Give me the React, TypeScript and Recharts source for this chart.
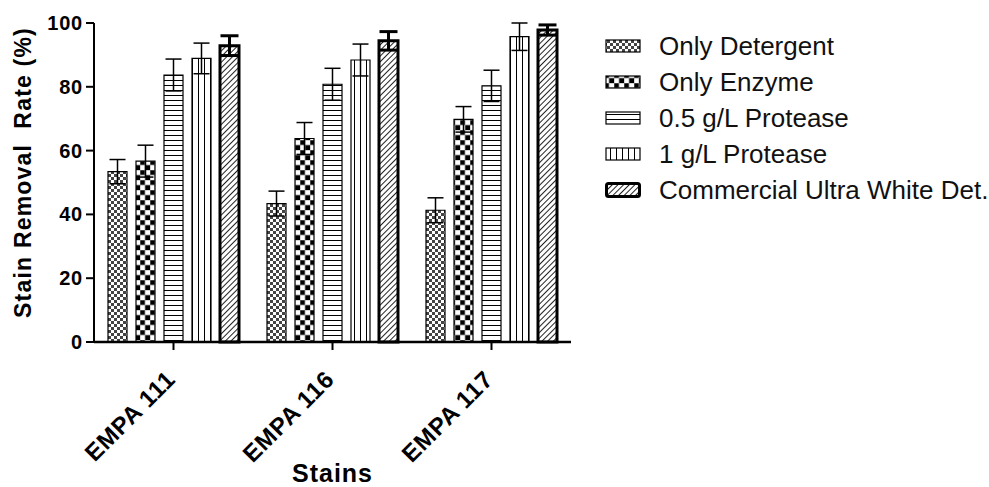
import React from 'react';
import { BarChart, Bar, XAxis, YAxis, ErrorBar, Label } from 'recharts';

const categories = ['EMPA 111', 'EMPA 116', 'EMPA 117'];
const onlyDetergent = [53.4, 43.4, 41.3];
const onlyDetergentErr = [3.8, 3.9, 3.9];
const onlyEnzyme = [56.7, 63.8, 69.8];
const onlyEnzymeErr = [5.0, 5.0, 4.0];
const protease05 = [83.7, 80.8, 80.3];
const protease05Err = [5.0, 5.0, 4.9];
const protease1 = [88.9, 88.4, 95.7];
const protease1Err = [4.8, 5.0, 4.3];
const commercial = [92.9, 94.4, 97.8];
const commercialErr = [3.1, 2.9, 1.6];
const yTicks = [0, 20, 40, 60, 80, 100];

const seriesNames = [
  'Only Detergent',
  'Only Enzyme',
  '0.5 g/L Protease',
  '1 g/L Protease',
  'Commercial Ultra White Det.',
];

const data = categories.map((c, i) => ({
  name: c,
  det: onlyDetergent[i],
  detErr: onlyDetergentErr[i],
  enz: onlyEnzyme[i],
  enzErr: onlyEnzymeErr[i],
  p05: protease05[i],
  p05Err: protease05Err[i],
  p1: protease1[i],
  p1Err: protease1Err[i],
  com: commercial[i],
  comErr: commercialErr[i],
}));

const FONT = '"Liberation Sans", Arial, Helvetica, sans-serif';

const Patterns = ({ prefix }: { prefix: string }) => (
  <defs>
    <pattern id={`${prefix}det`} width={6} height={6} patternUnits="userSpaceOnUse">
      <rect width={6} height={6} fill="#fff" />
      <rect x={0} y={0} width={3} height={3} fill="#444" />
      <rect x={3} y={3} width={3} height={3} fill="#444" />
    </pattern>
    <pattern id={`${prefix}enz`} width={10} height={10} patternUnits="userSpaceOnUse">
      <rect width={10} height={10} fill="#fff" />
      <rect x={0} y={0} width={5} height={5} fill="#000" />
      <rect x={5} y={5} width={5} height={5} fill="#000" />
      <path d="M0 0 H10 M0 5 H10 M0 0 V10 M5 0 V10" stroke="#999" strokeWidth={0.8} fill="none" />
    </pattern>
    <pattern id={`${prefix}p05`} width={6} height={5} patternUnits="userSpaceOnUse">
      <rect width={6} height={5} fill="#fff" />
      <line x1={0} y1={0.5} x2={6} y2={0.5} stroke="#000" strokeWidth={1} />
    </pattern>
    <pattern id={`${prefix}p1`} width={6} height={6} patternUnits="userSpaceOnUse">
      <rect width={6} height={6} fill="#fff" />
      <line x1={0.5} y1={0} x2={0.5} y2={6} stroke="#000" strokeWidth={1} />
    </pattern>
    <pattern
      id={`${prefix}com`}
      width={4}
      height={4}
      patternUnits="userSpaceOnUse"
      patternTransform="rotate(45)"
    >
      <rect width={4} height={4} fill="#fff" />
      <line x1={0.5} y1={0} x2={0.5} y2={4} stroke="#222" strokeWidth={1} />
    </pattern>
  </defs>
);

const XTick = (props: any) => {
  const { x, y, payload } = props;
  return (
    <g transform={`translate(${x + 3},${y + 29})`}>
      <text
        transform="rotate(-45)"
        textAnchor="end"
        fontFamily={FONT}
        fontWeight="bold"
        fontSize={24}
        letterSpacing={0.6}
        fill="#000"
      >
        {payload.value}
      </text>
    </g>
  );
};

const YTick = (props: any) => {
  const { x, y, payload } = props;
  return (
    <text
      x={x}
      y={y}
      textAnchor="end"
      dominantBaseline="central"
      fontFamily={FONT}
      fontWeight="bold"
      fontSize={20}
      letterSpacing={0.8}
      fill="#000"
    >
      {payload.value}
    </text>
  );
};

const YLabel = (props: any) => {
  const { viewBox } = props;
  const cx = viewBox.x + 23;
  const cy = viewBox.y + viewBox.height / 2 - 10;
  return (
    <text
      x={cx}
      y={cy}
      transform={`rotate(-90 ${cx} ${cy})`}
      textAnchor="middle"
      dominantBaseline="central"
      fontFamily={FONT}
      fontWeight="bold"
      fontSize={23}
      letterSpacing={1.2}
      fill="#000"
      style={{ whiteSpace: 'pre' }}
    >
      {'Stain Removal  Rate (%)'}
    </text>
  );
};

const XLabel = (props: any) => {
  const { viewBox } = props;
  const cx = viewBox.x + viewBox.width / 2;
  const by = viewBox.y + viewBox.height - 5;
  return (
    <text
      x={cx}
      y={by}
      textAnchor="middle"
      fontFamily={FONT}
      fontWeight="bold"
      fontSize={25}
      letterSpacing={1}
      fill="#000"
    >
      Stains
    </text>
  );
};

const seriesKeys = ['det', 'enz', 'p05', 'p1', 'com'];

const LegendBox = () => (
  <div style={{ position: 'absolute', left: 604, top: 28 }}>
    {seriesNames.map((n, i) => (
      <div
        key={n}
        style={{ display: 'flex', alignItems: 'center', height: 36, fontFamily: FONT, fontSize: 26, color: '#111' }}
      >
        <svg width={38} height={18} style={{ marginRight: 17 }}>
          {i === 0 && <Patterns prefix="lg-" />}
          <rect
            x={i === 4 ? 2.5 : 2}
            y={i === 4 ? 2.5 : 3}
            width={i === 4 ? 33 : 34}
            height={i === 4 ? 13 : 12}
            rx={i === 4 ? 2 : 0}
            fill={`url(#lg-${seriesKeys[i]})`}
            stroke="#000"
            strokeWidth={i === 4 ? 3 : 1.2}
          />
        </svg>
        <span style={{ lineHeight: '36px' }}>{n}</span>
      </div>
    ))}
  </div>
);

export default function App() {
  return (
    <div style={{ position: 'absolute', left: 0, top: 0, width: 989, height: 487, background: '#fff' }}>
      <BarChart
        width={989}
        height={487}
        data={data}
        margin={{ top: 23, right: 418, left: 0, bottom: 0 }}
        barSize={19}
        barGap={9}
      >
        <Patterns prefix="ch-" />
        <XAxis
          dataKey="name"
          height={145}
          axisLine={{ stroke: '#000', strokeWidth: 2.5 }}
          tickLine={{ stroke: '#000', strokeWidth: 2 }}
          tickSize={8}
          tick={<XTick />}
          interval={0}
        >
          <Label content={<XLabel />} />
        </XAxis>
        <YAxis
          width={94}
          domain={[0, 100]}
          ticks={yTicks}
          axisLine={{ stroke: '#000', strokeWidth: 2 }}
          tickLine={{ stroke: '#000', strokeWidth: 2 }}
          tickSize={8}
          tickMargin={3}
          tick={<YTick />}
        >
          <Label content={<YLabel />} />
        </YAxis>
        <Bar dataKey="det" fill="url(#ch-det)" stroke="#000" strokeWidth={1.2} isAnimationActive={false}>
          <ErrorBar dataKey="detErr" width={8} stroke="#000" strokeWidth={1.5} direction="y" />
        </Bar>
        <Bar dataKey="enz" fill="url(#ch-enz)" stroke="#000" strokeWidth={1.2} isAnimationActive={false}>
          <ErrorBar dataKey="enzErr" width={8} stroke="#000" strokeWidth={1.5} direction="y" />
        </Bar>
        <Bar dataKey="p05" fill="url(#ch-p05)" stroke="#000" strokeWidth={1.2} isAnimationActive={false}>
          <ErrorBar dataKey="p05Err" width={8} stroke="#000" strokeWidth={1.5} direction="y" />
        </Bar>
        <Bar dataKey="p1" fill="url(#ch-p1)" stroke="#000" strokeWidth={1.2} isAnimationActive={false}>
          <ErrorBar dataKey="p1Err" width={8} stroke="#000" strokeWidth={1.5} direction="y" />
        </Bar>
        <Bar dataKey="com" fill="url(#ch-com)" stroke="#000" strokeWidth={3} isAnimationActive={false}>
          <ErrorBar dataKey="comErr" width={9} stroke="#000" strokeWidth={3} direction="y" />
        </Bar>
      </BarChart>
      <LegendBox />
    </div>
  );
}
